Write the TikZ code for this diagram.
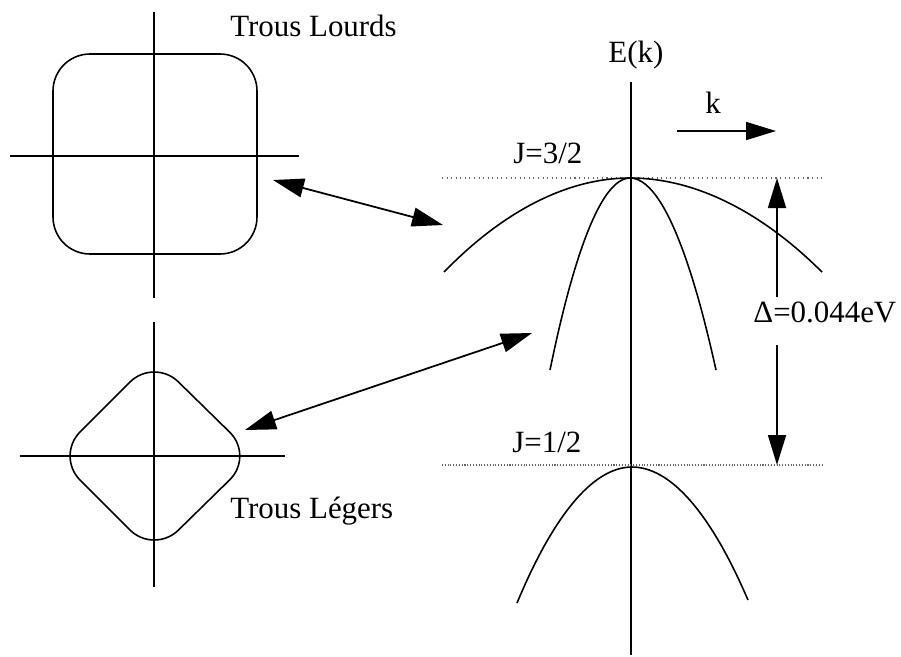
\documentclass[tikz,border=0pt]{standalone}
\usepackage{fontspec}
\setmainfont{Liberation Serif}
\usetikzlibrary{arrows.meta,positioning}

\begin{document}
\begin{tikzpicture}[
  x=0.02cm,y=-0.02cm,
  axis/.style={line width=1.1pt},
  band/.style={line width=0.9pt},
  level/.style={gray!80!black,line width=0.6pt},
  lbl/.style={anchor=base west,inner sep=0pt,font=\fontsize{17.6}{20}\selectfont},
  link/.style={line width=1pt,{Triangle[length=0.62cm,width=0.38cm]}-{Triangle[length=0.62cm,width=0.38cm]}},
  gap/.style={line width=1pt,-{Triangle[length=0.6cm,width=0.36cm]}}
]
  \useasboundingbox (0,0) rectangle (901,656);
  % Heavy holes (top left)
  \draw[axis] (154,12) -- (154,298);
  \draw[axis] (10,156) -- (299,156);
  \draw[band,rounded corners=0.74cm] (53,54) rectangle (257,254);
  \node[lbl] (lourds) at (230,36) {Trous Lourds};
  % Light holes (bottom left)
  \draw[axis] (154,322) -- (154,587);
  \draw[axis] (20,456) -- (285,456);
  \draw[band,rounded corners=0.68cm] (154,358) -- (254,456) -- (154,554) -- (56,456) -- cycle;
  \node[lbl] (legers) at (230,518) {Trous Légers};
  % Band structure E(k)
  \draw[axis] (631,82) -- (631,655);
  \node[lbl] (ek) at (608,62) {E(k)};
  \node[lbl] (klbl) at (705,113) {k};
  \coordinate (k0) at (677,131);
  \coordinate (k1) at (776,131);
  \draw[gap] (k0) -- (k1);
  % J=3/2 level
  \draw[level,dotted] (442,178) -- (823,178);
  \node[lbl] (j32) at (513,163) {J=3/2};
  \draw[band] (444,272) parabola bend (630,178) (822,272);
  \draw[band] (550,370) parabola bend (630,178) (716,370);
  % J=1/2 level
  \draw[level,densely dotted,line width=0.9pt] (442,465) -- (823,465);
  \node[lbl] (j12) at (512,452) {J=1/2};
  \draw[band] (517,603) parabola bend (632,467) (748,600);
  % Splitting
  \node[lbl] (delta) at (753,322) {Δ=0.044eV};
  \coordinate (d0) at (777,297);
  \coordinate (d1) at (777,178);
  \coordinate (d2) at (777,345);
  \coordinate (d3) at (777,465);
  \draw[gap] (d0) -- (d1);
  \draw[gap] (d2) -- (d3);
  % Links between surfaces and bands
  \coordinate (hh) at (273,180);
  \coordinate (hhband) at (443,225);
  \coordinate (lh) at (245,430);
  \coordinate (lhband) at (532,333);
  \draw[link] (hh) -- (hhband);
  \draw[link] (lh) -- (lhband);
\end{tikzpicture}
\end{document}
